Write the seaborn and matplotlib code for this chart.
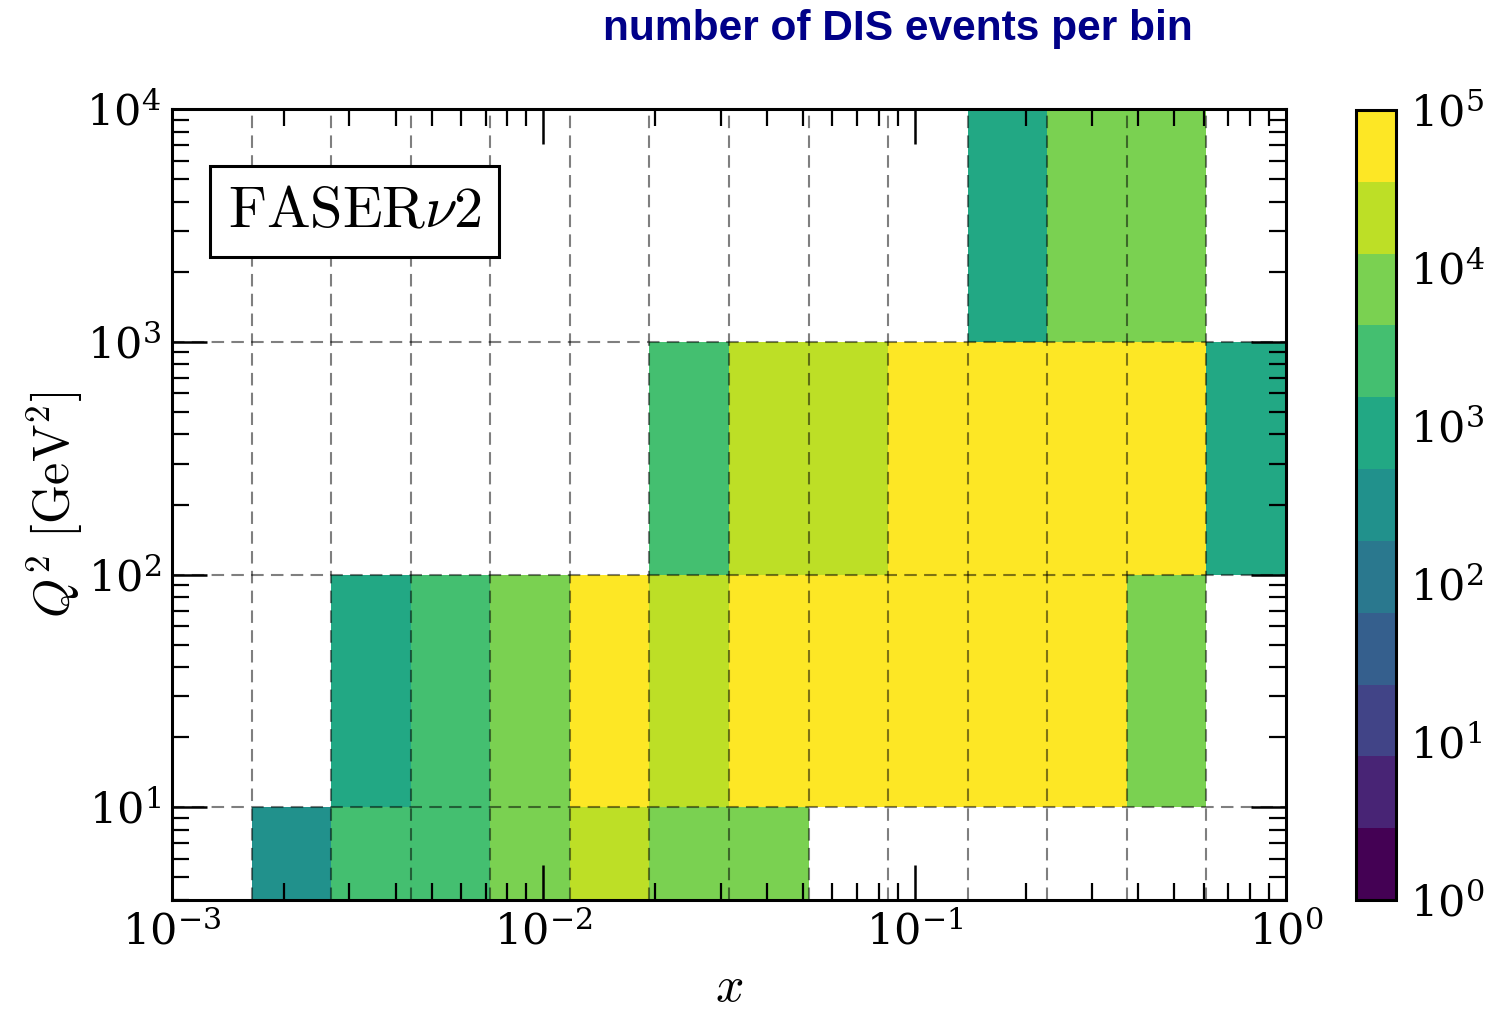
import numpy as np
import pandas as pd
import matplotlib
matplotlib.use("Agg")
import matplotlib.pyplot as plt
from matplotlib.colors import LogNorm, ListedColormap
from matplotlib.collections import QuadMesh
from matplotlib.ticker import LogLocator, NullFormatter
import seaborn as sns


# Binning (log10 units): 14 equal bins in x, decades in Q^2
x_bin_edges_log = np.linspace(-3, 0, 15)
q2_bin_edges_log = [np.log10(4.0), 1.0, 2.0, 3.0, 4.0]

# Number of DIS events per bin, one list per Q^2 row (0 = empty)
counts_q2_4_10 = [0, 350, 3000, 3000, 8000, 20000, 8000, 8000, 0, 0, 0, 0, 0, 0]
counts_q2_10_100 = [0, 0, 1000, 3000, 8000, 60000, 20000, 60000, 60000, 60000, 60000, 60000, 8000, 0]
counts_q2_100_1000 = [0, 0, 0, 0, 0, 0, 3000, 20000, 20000, 60000, 60000, 60000, 60000, 1000]
counts_q2_1000_10000 = [0, 0, 0, 0, 0, 0, 0, 0, 0, 0, 1000, 8000, 8000, 0]

rows = [counts_q2_4_10, counts_q2_10_100, counts_q2_100_1000, counts_q2_1000_10000]


# Turn the table into (x, Q2, weight) records at the bin centres
x_centres = 10 ** (0.5 * (x_bin_edges_log[:-1] + x_bin_edges_log[1:]))
q2_centres = 10 ** (0.5 * (np.array(q2_bin_edges_log[:-1]) + np.array(q2_bin_edges_log[1:])))
records = []
for j, row in enumerate(rows):
    for i, n in enumerate(row):
        if n > 0:
            records.append({"x": x_centres[i], "Q2": q2_centres[j], "events": n})
events = pd.DataFrame(records)


# Style
plt.rcParams["mathtext.fontset"] = "cm"
plt.rcParams["axes.formatter.use_mathtext"] = True
plt.rcParams["font.family"] = ["DejaVu Serif"]

fig = plt.figure(figsize=(7.48, 5.05), dpi=200)
ax = fig.add_axes([172 / 1496, 1 - 900 / 1010, 1114 / 1496, 791 / 1010])
cax = fig.add_axes([1356 / 1496, 1 - 900 / 1010, 40 / 1496, 790 / 1010])

cmap = ListedColormap(plt.get_cmap("viridis").resampled(11)(np.linspace(0, 1, 11)))

sns.histplot(data=events, x="x", y="Q2", weights="events",
             bins=(x_bin_edges_log, q2_bin_edges_log),
             log_scale=True,
             cmap=cmap,
             ax=ax)

# Log colour scale from 1 to 1e5
mesh = [c for c in ax.collections if isinstance(c, QuadMesh)][0]
mesh.set_norm(LogNorm(vmin=1, vmax=1e5))
cbar = fig.colorbar(mesh, cax=cax)

ax.set_xlim(1e-3, 1)
ax.set_ylim(4, 1e4)

# Dashed lines at the bin edges
for e in x_bin_edges_log[1:-1]:
    ax.axvline(10 ** e, color="black", alpha=0.5, lw=0.75, ls=(0, (6, 3.5)), zorder=3)
for e in [10, 100, 1000]:
    ax.axhline(e, color="black", alpha=0.5, lw=0.75, ls=(0, (6, 3.5)), zorder=3)

ax.set_xlabel(r"$x$", fontsize=18)
ax.set_ylabel(r"$Q^2~[\mathrm{GeV}^2]$", fontsize=18)
ax.xaxis.set_label_coords(0.5, -0.11)
ax.xaxis.label.set_verticalalignment("center")
ax.yaxis.set_label_coords(-0.105, 0.5)
ax.yaxis.label.set_verticalalignment("center")

ax.tick_params(which="both", direction="in", top=True, right=True, labelsize=15.5)
ax.tick_params(which="major", length=12.5, width=0.9, pad=4)
ax.tick_params(which="minor", length=6, width=0.8)
ax.xaxis.set_minor_locator(LogLocator(base=10, subs=np.arange(2, 10)))
ax.yaxis.set_minor_locator(LogLocator(base=10, subs=np.arange(2, 10)))
ax.xaxis.set_minor_formatter(NullFormatter())
ax.yaxis.set_minor_formatter(NullFormatter())
for s in ax.spines.values():
    s.set_linewidth(1.1)
    s.set_zorder(5)

ax.text(0.164, 0.870, r"$\mathrm{FASER}\nu2$", transform=ax.transAxes,
        fontsize=21, ha="center", va="center", zorder=6,
        bbox=dict(boxstyle="square,pad=0.3", fc="white", ec="black", lw=1.1))

# Colorbar
cbar.outline.set_linewidth(1.1)
cbar.set_ticks([1, 10, 100, 1000, 1e4, 1e5])
cbar.ax.yaxis.set_minor_formatter(NullFormatter())
cbar.ax.tick_params(which="both", length=0, labelsize=15.5, pad=5)

fig.text(898 / 1496, 1 - 29 / 1010, "number of DIS events per bin",
         fontsize=15.3, fontweight="bold", color="#000088",
         family=["Liberation Sans", "DejaVu Sans"], ha="center", va="center")

fig.savefig("out.png", dpi=200)
